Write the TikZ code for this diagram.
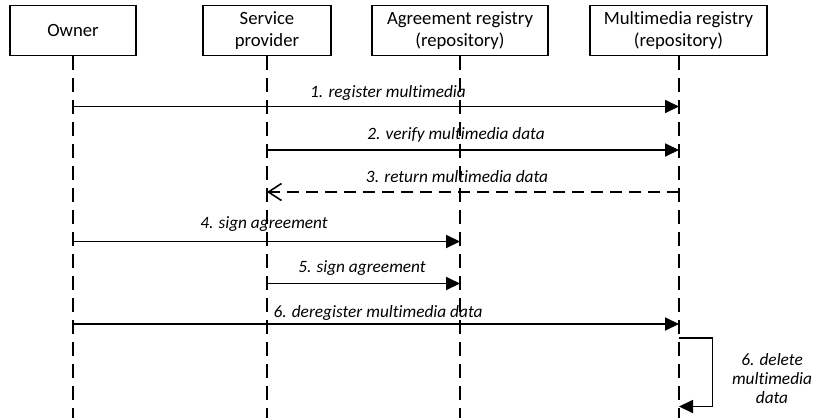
\documentclass[tikz,border=0pt]{standalone}
\usepackage{fontspec}
\setmainfont{Carlito}[RawFeature={-liga}]
\usetikzlibrary{arrows.meta}
\begin{document}
\begin{tikzpicture}[x=1pt,y=-1pt,
  actor/.style={draw,line width=1.7pt,minimum height=50pt,inner sep=0pt,align=center,
    font=\fontsize{18.7pt}{22pt}\selectfont},
  life/.style={line width=2.2pt,dash pattern=on 14pt off 8pt},
  msg/.style={line width=1.8pt,-{Triangle[length=14pt,width=13pt]}},
  ret/.style={line width=1.8pt,dash pattern=on 12pt off 7pt,-{Straight Barb[length=13pt,width=17pt,line width=1.6pt]}},
  lbl/.style={font=\fontsize{17.3pt}{19pt}\selectfont\itshape,inner sep=0pt,align=center}]
\useasboundingbox (0,0) rectangle (813,418);
% actors
\node[actor,minimum width=126pt] (owner) at (73,30.5) {Owner};
\node[actor,minimum width=128pt] (sp) at (267,30.5) {Service\\provider};
\node[actor,minimum width=176pt] (ar) at (460,30.5) {Agreement registry\\(repository)};
\node[actor,minimum width=177pt] (mm) at (678.5,30.5) {Multimedia registry\\(repository)};
% lifeline ends
\coordinate (ownerE) at (73,418);
\coordinate (spE) at (267,418);
\coordinate (arE) at (460,418);
\coordinate (mmE) at (679,418);
\draw[life] (owner.south) -- (ownerE);
\draw[life] (sp.south) -- (spE);
\draw[life] (ar.south) -- (arE);
\draw[life] (mm.south -| mmE) -- (mmE);
% message points
\coordinate (o1) at (73,106.5);  \coordinate (m1) at (679,106.5);
\coordinate (s2) at (267,150);   \coordinate (m2) at (679,150);
\coordinate (m3) at (679,192);   \coordinate (s3) at (267,192);
\coordinate (o4) at (73,241.5);  \coordinate (a4) at (460,241.5);
\coordinate (s5) at (267,283.5); \coordinate (a5) at (460,283.5);
\coordinate (o6) at (73,324);    \coordinate (m6) at (679,324);
\coordinate (m7a) at (679,338);  \coordinate (c7a) at (712.5,338);
\coordinate (c7b) at (712.5,406.5); \coordinate (m7b) at (679,406.5);
\draw[msg] (o1) -- (m1);
\draw[msg] (s2) -- (m2);
\draw[ret] (m3) -- (s3);
\draw[msg] (o4) -- (a4);
\draw[msg] (s5) -- (a5);
\draw[msg] (o6) -- (m6);
\draw[msg] (m7a) -- (c7a) -- (c7b) -- (m7b);
% labels
\node[lbl] (l1) at (388,93) {1. register multimedia};
\node[lbl] (l2) at (456,135) {2. verify multimedia data};
\node[lbl] (l3) at (457,177) {3. return multimedia data};
\node[lbl] (l4) at (264,224) {4. sign agreement};
\node[lbl] (l5) at (362,268) {5. sign agreement};
\node[lbl] (l6) at (378,313) {6. deregister multimedia data};
\node[lbl] (l7) at (772,378.5) {6. delete\\multimedia\\data};
\end{tikzpicture}
\end{document}
